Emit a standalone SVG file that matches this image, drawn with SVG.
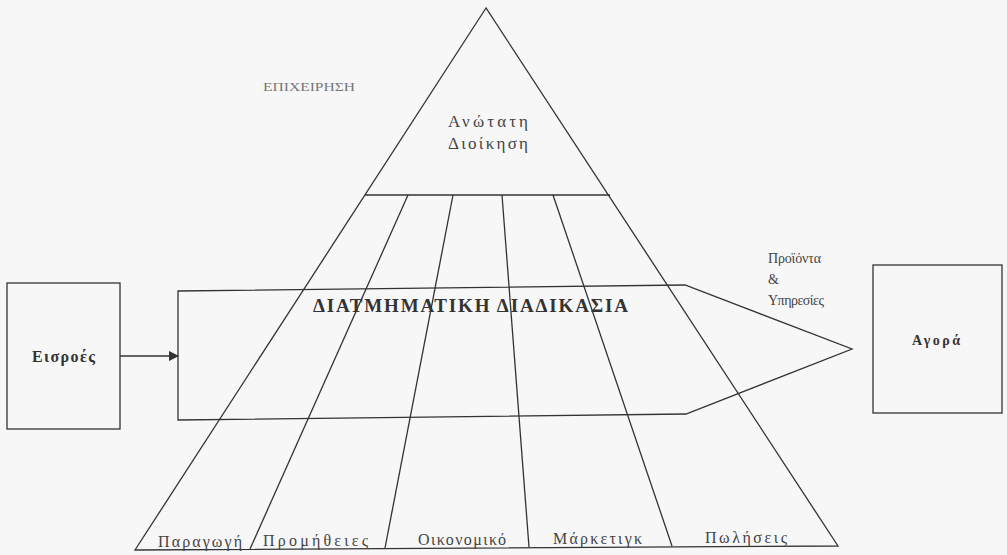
<svg xmlns="http://www.w3.org/2000/svg" width="1007" height="555" viewBox="0 0 1007 555">
<defs>
<style>
.ln{fill:none;stroke:#333;stroke-width:1.3}
.t{font-family:"Liberation Serif","DejaVu Serif",serif;fill:#444}
.b{font-weight:bold;fill:#333}
</style>
<marker id="ah" markerWidth="10" markerHeight="10" refX="9" refY="5" orient="auto" markerUnits="userSpaceOnUse">
<path d="M0,0 L10,5 L0,10 Z" fill="#333"/>
</marker>
</defs>
<rect width="1007" height="555" fill="#f7f7f7"/>
<g id="pyramid">
<path class="ln" d="M486,8 L135,550 L838,546 Z"/>
<line class="ln" x1="365" y1="195" x2="610" y2="195"/>
<line class="ln" x1="408" y1="195" x2="250" y2="549"/>
<line class="ln" x1="453" y1="195" x2="385" y2="548"/>
<line class="ln" x1="502" y1="195" x2="529" y2="547"/>
<line class="ln" x1="553" y1="195" x2="672" y2="546"/>
<text class="t" x="263" y="91" font-size="13" style="fill:#777" textLength="92" lengthAdjust="spacingAndGlyphs">ΕΠΙΧΕΙΡΗΣΗ</text>
<text class="t" x="448" y="127" font-size="17" textLength="80" lengthAdjust="spacing">Ανώτατη</text>
<text class="t" x="448" y="149" font-size="17" textLength="80" lengthAdjust="spacing">Διοίκηση</text>
<text class="t" x="158" y="547" font-size="16" textLength="84" lengthAdjust="spacing">Παραγωγή</text>
<text class="t" x="263" y="546" font-size="16" textLength="105" lengthAdjust="spacing">Προμήθειες</text>
<text class="t" x="418" y="545" font-size="16" textLength="88" lengthAdjust="spacing">Οικονομικό</text>
<text class="t" x="553" y="544" font-size="16" textLength="89" lengthAdjust="spacing">Μάρκετιγκ</text>
<text class="t" x="705" y="543" font-size="16" textLength="82" lengthAdjust="spacing">Πωλήσεις</text>
</g>
<g id="process">
<path class="ln" d="M178,291 L685,285 L852,349 L686,414 L178,420 Z"/>
<text class="t b" x="313" y="312" font-size="19" textLength="315" lengthAdjust="spacing">ΔΙΑΤΜΗΜΑΤΙΚΗ ΔΙΑΔΙΚΑΣΙΑ</text>
</g>
<g id="outputs-label">
<text class="t" x="768" y="263" font-size="14" textLength="53" lengthAdjust="spacing">Προϊόντα</text>
<text class="t" x="768" y="284" font-size="14">&amp;</text>
<text class="t" x="768" y="305" font-size="14" textLength="56" lengthAdjust="spacing">Υπηρεσίες</text>
</g>
<g id="inputs">
<rect class="ln" x="7" y="283" width="113" height="146"/>
<text class="t b" x="32" y="362" font-size="16" textLength="63" lengthAdjust="spacing">Εισροές</text>
</g>
<g id="market">
<rect class="ln" x="873" y="265" width="129" height="148"/>
<text class="t b" x="912" y="345" font-size="14" textLength="48" lengthAdjust="spacing">Αγορά</text>
</g>
<g id="connectors">
<line class="ln" x1="120" y1="356" x2="178" y2="356" marker-end="url(#ah)"/>
</g>
</svg>
